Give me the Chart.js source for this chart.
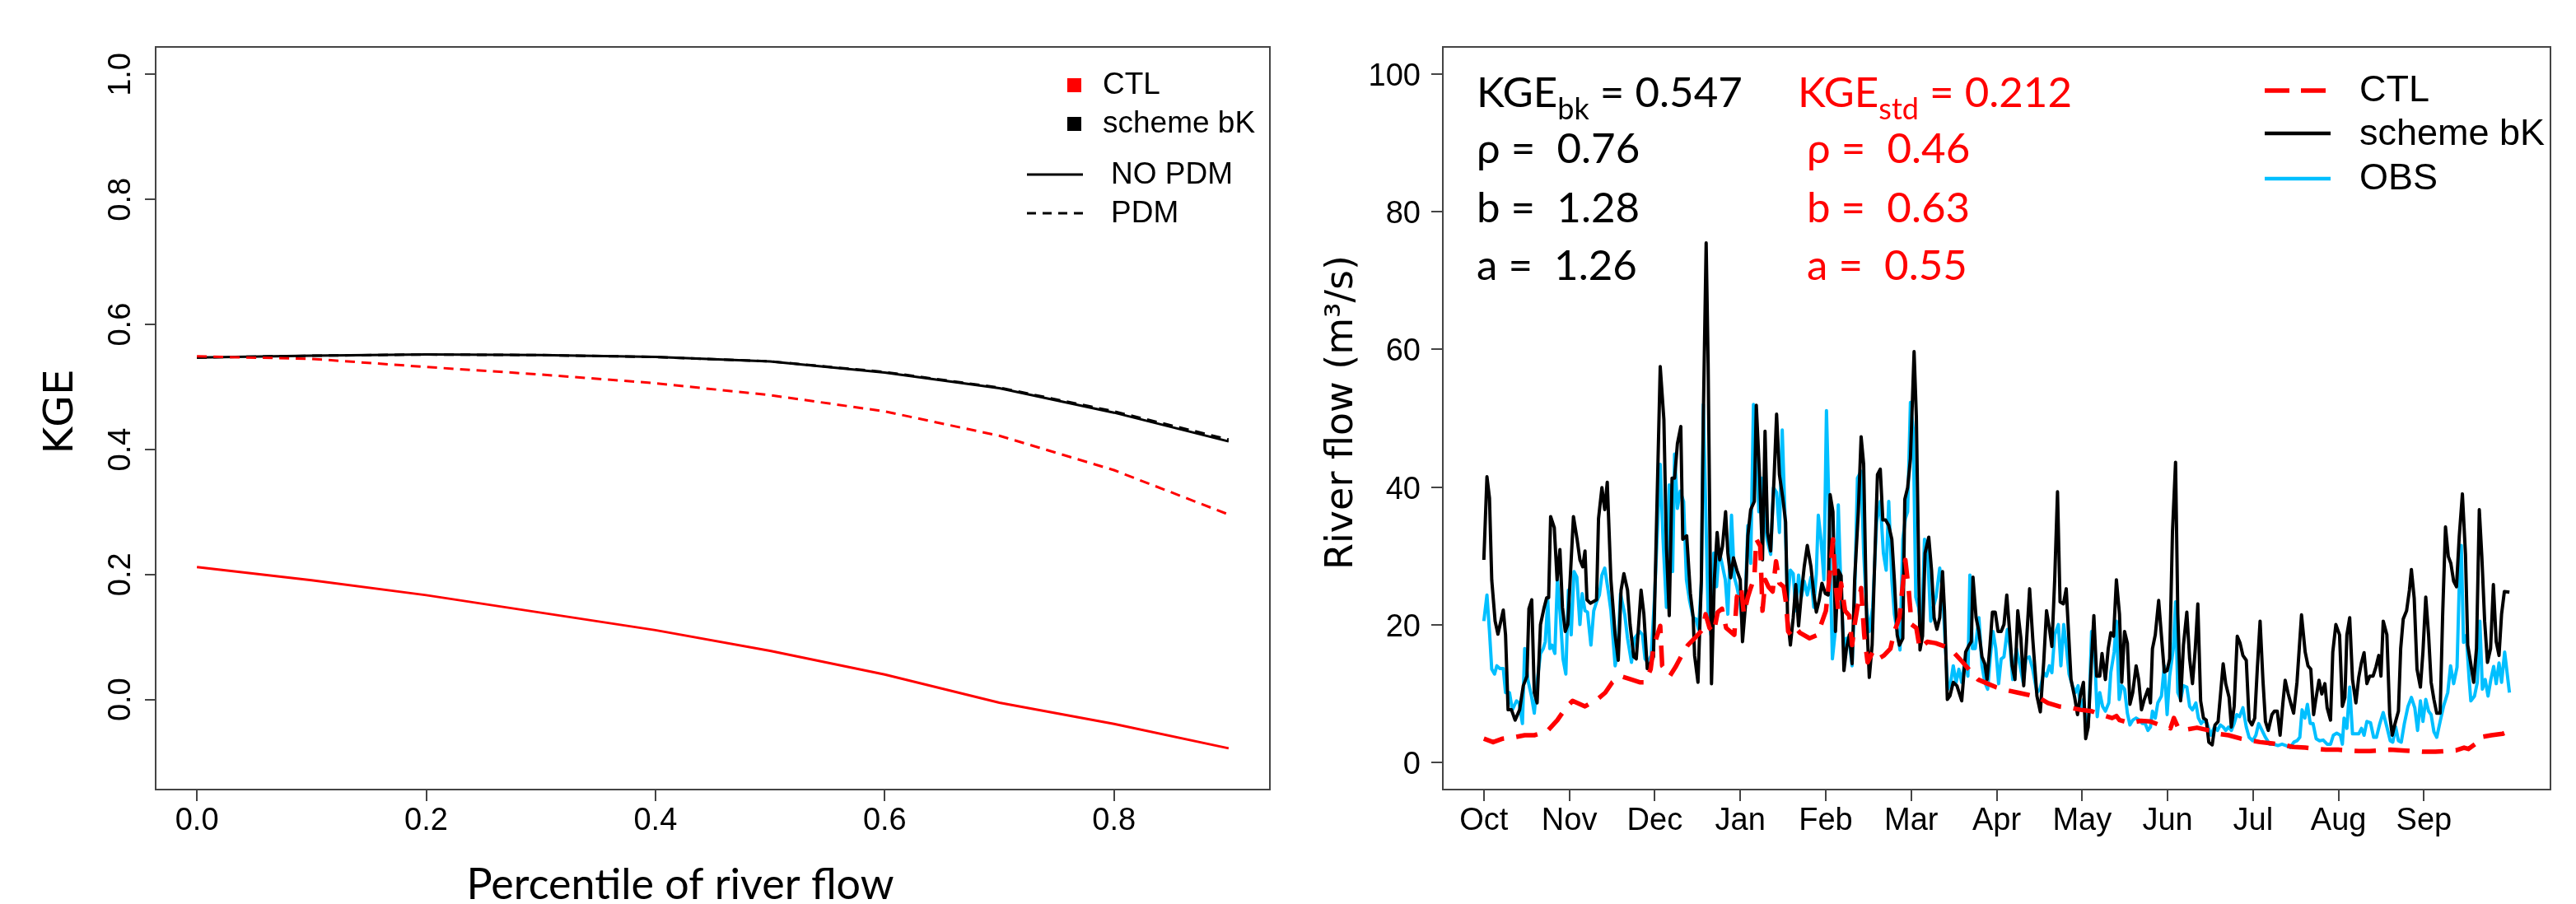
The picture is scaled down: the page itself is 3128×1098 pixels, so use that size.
<!DOCTYPE html>
<html><head><meta charset="utf-8">
<script src="https://cdn.jsdelivr.net/npm/chart.js@4.4.1/dist/chart.umd.min.js"></script>
<style>
html,body{margin:0;padding:0;background:#fff;overflow:hidden;}
#wrap{position:relative;width:3128px;height:1098px;overflow:hidden;background:#fff}
canvas{position:absolute;top:0}
#cL{left:0}
#cR{left:1560px}
</style></head><body>
<div id="wrap"><canvas id="cL" width="1560" height="1098"></canvas><canvas id="cR" width="1568" height="1098"></canvas></div>
<script>
// ---------------- LEFT PANEL DATA ----------------
const percentiles = [0, 0.1, 0.2, 0.3, 0.4, 0.5, 0.6, 0.7, 0.8, 0.9];
const ctlNoPdm = [0.212, 0.191, 0.167, 0.139, 0.111, 0.078, 0.040, -0.005, -0.039, -0.078];
const ctlPdm   = [0.549, 0.545, 0.532, 0.520, 0.506, 0.487, 0.461, 0.422, 0.367, 0.296];
const bkNoPdm  = [0.547, 0.550, 0.552, 0.551, 0.548, 0.541, 0.523, 0.498, 0.459, 0.413];
const bkPdm    = [0.547, 0.550, 0.552, 0.551, 0.548, 0.541, 0.524, 0.499, 0.461, 0.416];
const kgeTicks = [0, 0.2, 0.4, 0.6, 0.8, 1.0];
const pctTicks = [0, 0.2, 0.4, 0.6, 0.8];

// ---------------- RIGHT PANEL DATA (day of water year, m3/s) ----------------
const monthLabels = ['Oct','Nov','Dec','Jan','Feb','Mar','Apr','May','Jun','Jul','Aug','Sep'];
const flowTicks = [0, 20, 40, 60, 80, 100];

const bkDay = [0,1.1,2,2.8,4,5,6.9,7.7,8.6,9.8,11.1,12.7,14,15.3,16,17,17.9,18.9,20.1,21.3,22.3,23,23.7,25,26,27,27.9,28.9,29.8,31.8,33.1,34.1,35.1,35.9,36.6,37.8,40,40.7,41.9,42.9,43.8,45.1,46.6,47.7,48.7,49.7,51,51.9,53.2,54.1,55.8,56.8,58,59.2,60.2,61.1,62.6,63.9,64.8,65.8,66.8,67.7,68.7,69.9,70.6,72,73.3,74.3,74.8,76,77.2,77.9,78.9,79.6,80.8,81.8,82.8,83.7,84.7,85.8,86.6,87.6,88.6,89.8,91,91.8,92.8,93.7,94.7,96,96.7,97.9,98.9,99.8,100.7,101.8,103,103.9,104.9,106.1,107.1,107.8,108.8,109.8,110.7,111.7,112.7,113.7,114.8,116.1,117.1,118,119,120,121.2,122.2,122.9,123.9,124.8,125.8,126.8,127.8,128.7,129.7,130.7,131.6,132.9,133.9,134.8,135.8,136.8,137.8,138.7,139.7,140.7,141.6,142.6,143.7,144.8,145.7,146.7,147.5,148.7,149.4,150.4,151.4,152.7,153.5,154.8,155.7,156.6,157.9,158.9,159.8,160.8,161.8,162.8,163.5,164.5,165.4,166.6,167.9,169.6,171,172.2,173,173.6,174.7,175.7,176.8,177.8,178.6,179.6,180.5,181.5,182.5,183.6,184.6,185.6,186.6,187.5,188.5,189.5,190.6,191.6,192.6,193.7,194.8,196.3,197.5,198.7,199.7,200.7,201.6,202.6,203.6,204.5,205.7,206.7,207.5,208.4,209.7,210.7,211.8,212.8,213.6,214.5,215.5,216.5,217.5,218.6,219.4,220.6,221.6,222.5,223.5,224.5,225.6,226.4,227.4,228.4,229.3,230.3,231.5,232.4,233.4,234.4,235.7,236.6,237.3,238.3,239.5,240.5,241.5,242.5,243.4,244.4,245.5,246.3,247.3,248.3,249.5,250.5,251.5,252.5,253.4,254.4,255.4,256.4,257.3,258.5,259.5,260.6,261.4,262.4,263.3,264.5,265.3,266.3,267.4,268.4,269.4,270.6,271.6,272.6,273.6,274.5,275.5,276.5,277.4,278.4,279.7,280.6,281.6,282.6,283.6,284.4,285.5,286.5,287.4,288.6,290.2,291.5,292.5,293.5,294.5,295.2,296.4,297.4,298.5,299.3,300.5,301.3,302.4,303.7,304.7,305.6,306.3,307.3,308.3,309.5,310.5,311.5,312.4,313.4,314.4,315.6,316.6,317.6,318.4,319.2,320.5,321.5,322.4,323.4,324.6,325.4,326.3,327.5,328.5,329.2,330.2,331.2,332.4,333.3,334.3,335.3,336.2,337.2,338.2,339.4,340.3,341.3,342.3,343.2,344.2,345.2,346.2,347.3,348.4,349.2,350,351.3,352.3,353.3,354.2,355.2,356.2,357.3,358.3,359.3,360.3,361.2,362.2,364];
const bkVal = [29.4,41.5,38.4,26.5,20.5,18.6,22.1,18.5,7.6,7.6,6.1,7.6,11.1,12.5,22.3,23.6,10.1,8.6,20.0,22.3,23.9,23.9,35.7,34.1,26.5,30.9,22.5,19.0,20.0,35.7,32.4,29.4,28.4,30.7,23.6,23.1,23.6,35.4,39.9,36.7,40.7,26.5,18.5,14.8,25.0,27.4,25.0,20.0,15.3,15.0,25.0,21.5,13.6,14.5,15.3,31.4,57.5,49.8,31.4,21.3,41.3,41.3,46.3,48.8,32.4,32.9,24.5,21.0,15.5,11.6,26.5,50.3,75.5,58.0,11.4,26.5,33.4,29.4,31.4,36.4,30.4,26.8,29.7,27.9,26.5,17.5,22.5,32.9,36.7,37.9,51.9,41.3,29.4,48.1,33.4,30.7,41.3,50.6,41.8,38.4,34.9,21.0,17.0,21.0,25.8,19.8,24.5,28.4,31.5,28.4,24.5,21.8,23.5,26.0,24.5,24.3,38.9,36.4,19.0,27.9,27.1,13.3,16.5,18.5,14.3,26.5,36.4,47.3,43.3,21.5,12.3,17.0,28.9,41.8,42.6,35.2,35.2,34.4,32.4,26.5,18.5,17.0,18.0,38.2,39.9,44.1,59.7,50.3,16.3,18.3,30.4,32.7,27.9,21.0,19.3,21.0,27.7,22.0,9.1,9.6,11.6,11.1,8.9,16.0,17.0,17.5,26.9,21.0,19.0,15.3,14.3,12.0,16.8,21.8,21.8,19.0,19.0,20.0,24.3,19.0,14.0,12.0,22.0,18.0,11.1,17.5,25.2,18.0,9.6,7.3,14.5,22.0,19.5,16.8,26.5,39.3,23.3,23.0,25.2,19.0,12.0,9.4,6.9,9.9,11.6,3.4,5.1,13.5,21.3,12.5,12.5,15.8,12.0,16.5,18.8,18.3,26.5,21.5,11.6,19.0,17.3,8.4,10.1,14.0,12.0,7.6,9.1,10.6,8.6,16.5,18.5,23.5,18.3,13.1,13.3,15.0,33.4,43.6,21.5,8.9,17.0,21.8,15.0,11.4,16.5,23.0,8.9,6.4,6.1,2.9,2.5,5.4,5.9,9.6,14.3,11.4,9.4,5.1,8.1,18.3,17.3,15.5,14.8,6.1,5.4,6.4,13.5,20.5,12.0,5.9,4.6,6.9,7.4,7.4,3.9,8.6,11.9,9.9,8.4,7.1,11.6,21.4,16.0,14.0,13.5,6.9,8.9,11.9,9.9,11.4,7.9,6.1,16.0,20.0,18.5,8.1,9.4,18.5,21.0,12.0,8.6,12.3,14.5,15.9,11.4,12.5,12.5,13.8,15.5,12.5,20.5,18.5,6.9,3.9,5.6,7.4,16.5,20.8,22.0,25.0,28.0,23.8,13.5,10.9,16.0,24.0,18.5,11.6,9.1,7.1,7.1,21.5,34.2,29.9,28.9,26.3,25.5,32.9,39.0,30.2,17.0,15.0,11.6,16.5,36.7,29.9,20.5,14.5,16.5,25.8,17.5,15.5,21.5,24.8,24.7];

const obsDay = [0,1.1,2,2.8,3.8,4.6,5.7,6.9,7.7,9.1,10.1,11.6,12.5,13.7,14.5,15.6,16.9,17.9,18.9,20.1,21.1,21.8,22.7,23.4,24.2,25.2,26.1,27.1,28.1,29.1,30,31,32,33,34.1,34.9,35.9,36.8,38,39,40,41,41.9,42.9,44.1,45.1,46.6,47.5,48.5,50,51,52.4,53.5,55.3,56.3,57.2,58.2,59.4,60.6,62.6,63.6,64.8,65.8,67,67.7,68.7,69.7,70.9,71.9,73,74.3,75.3,76.2,77.2,77.9,79.6,80.6,81.6,82.6,83.5,84.5,85.7,86.6,87.9,88.9,89.8,90.8,91.8,92.8,93.7,94.7,95.7,96.7,97.6,98.6,99.6,100.5,101.8,102.8,103.9,104.9,105.9,106.9,107.8,108.8,109.8,110.7,111.7,112.7,113.7,114.8,116.1,117.1,118,118.7,119.7,120.7,121.6,122.6,123.7,124.6,125.8,126.8,127.8,128.7,129.7,130.7,131.6,132.6,133.9,134.8,135.8,136.8,138,139.4,140.7,141.8,142.8,143.7,144.8,145.7,146.7,147.7,148.7,149.6,150.4,151.4,152.4,153.3,154.3,155.3,156.4,157.4,158.6,159.5,160.5,161.8,162.8,163.7,164.7,165.7,166.6,167.6,168.6,169.6,170.8,171.8,172.5,173.4,174.4,175.7,176.8,177.8,178.8,179.8,180.7,181.7,182.7,183.6,184.6,185.8,186.8,187.7,189,190.3,191.4,192.4,193.6,194.8,196.3,197.4,198.7,199.7,200.7,201.6,202.6,203.9,204.8,205.8,206.8,207.7,208.9,209.9,210.9,211.8,212.8,213.8,214.7,215.7,216.5,217.7,218.6,219.6,220.6,221.8,222.5,223.7,224.5,225.5,226.4,227.4,228.4,229.3,230.3,231.5,232.7,233.7,234.7,235.7,236.6,237.3,238.3,239.2,240.5,241.5,242.5,243.4,244.7,245.5,246.3,247.3,248.3,249.5,250.5,251.5,252.7,253.6,254.6,255.6,256.7,258,259.3,260.4,261.4,262.4,263.3,264.3,265.3,266.3,267.2,268.2,269.4,270.6,271.6,272.9,274,275,276.2,277.4,278.9,280.4,281.8,283.3,284.7,286.2,287.5,288.6,289.6,290.4,291.4,292.3,293.3,294.3,295.4,296.6,297.9,299.3,300.5,301.5,302.7,304,304.7,305.3,306.3,307.3,308.3,309.5,310.5,311.5,312.4,313.4,314.7,315.8,316.8,318,319.2,320.5,321.7,322.6,323.6,324.6,325.6,326.7,328,329.2,330.4,331.4,332.4,333.3,334.3,335.3,336.2,337.2,338.2,339.4,340.6,342.1,343.1,344.2,345.4,346.2,346.9,347.7,348.7,349.7,350.3,351.6,352.6,353.5,354.4,355.4,356.4,357.4,358.4,359.3,360.3,361.2,362.3,364];
const obsVal = [20.5,24.3,19.0,13.5,12.8,14.0,13.6,13.6,10.1,10.1,7.6,8.9,8.6,5.6,16.5,12.0,9.6,7.1,11.6,15.8,16.5,17.5,23.5,16.5,17.0,15.8,26.5,21.5,15.0,12.8,25.0,18.5,27.7,26.9,20.0,24.5,22.0,21.8,17.0,22.0,23.3,24.3,27.2,28.2,25.0,22.0,14.0,16.0,24.5,21.5,18.0,14.5,18.0,19.0,18.5,15.0,14.5,15.5,24.0,43.3,32.4,22.5,40.3,27.7,44.8,36.9,39.4,37.9,26.5,23.5,21.0,20.8,19.3,26.0,52.0,21.5,18.5,30.4,25.5,30.7,28.9,26.5,21.5,35.9,26.9,25.5,23.5,20.0,23.5,34.4,28.9,52.0,46.3,36.4,41.3,35.4,32.4,30.2,39.9,39.2,33.4,48.3,35.4,23.5,27.9,27.4,22.0,27.2,24.0,26.3,24.3,26.9,22.5,27.4,35.9,32.2,26.5,51.1,34.9,15.0,18.5,37.4,24.0,16.5,18.0,17.5,14.0,24.0,41.3,42.3,30.4,22.5,19.0,22.5,34.9,37.9,30.4,27.9,37.9,26.5,21.5,19.0,16.3,32.4,35.4,36.4,52.3,48.3,24.0,22.5,19.0,32.4,31.4,20.5,22.5,24.0,28.2,25.0,17.5,10.6,11.6,14.0,11.6,13.5,11.6,15.0,12.5,27.2,16.5,16.5,21.0,14.0,11.6,10.6,15.5,19.0,16.5,11.4,15.0,15.3,19.3,16.5,12.0,16.5,14.0,11.6,15.0,15.3,13.5,10.1,10.6,13.0,12.5,14.0,13.0,18.5,20.0,14.0,20.0,16.5,12.8,11.1,10.1,11.1,7.6,9.1,5.6,6.6,19.0,18.5,6.6,10.1,8.1,7.4,8.6,13.0,16.0,20.5,9.1,11.1,10.6,7.1,5.4,6.1,6.4,6.1,5.6,5.6,4.6,5.1,7.4,6.4,8.6,9.6,14.0,6.9,12.5,16.5,23.3,10.1,9.1,11.1,10.9,8.1,7.6,8.6,6.4,5.6,6.1,5.6,3.9,5.1,4.6,5.4,5.1,4.6,5.1,4.6,5.6,6.9,6.6,7.9,5.1,3.6,3.1,3.9,5.6,4.6,3.6,2.6,2.6,2.4,2.6,2.4,2.1,2.9,3.1,3.6,7.6,6.4,8.4,5.6,5.6,3.4,3.1,3.2,2.6,2.6,3.9,4.2,3.9,2.6,6.4,4.9,10.9,4.1,4.1,4.1,4.9,3.9,5.9,5.7,3.6,3.6,5.6,7.2,5.1,3.1,2.9,5.1,3.1,2.9,5.6,8.1,9.4,7.9,4.6,8.9,5.9,9.1,7.4,6.9,4.4,3.6,5.9,8.1,10.1,14.0,11.4,13.8,26.0,31.5,17.4,18.4,12.0,8.9,9.6,11.6,20.5,10.6,12.0,9.6,12.0,13.9,11.4,14.4,11.6,16.0,10.1];

const ctlDay = [0,3.3,6.7,10.6,14.5,17.9,22.3,26.1,29.1,31.5,35.9,40.2,43.1,45.6,48.5,52.4,55.3,57.2,59.2,60.2,62.6,63.3,66,68,70.6,72.4,74.8,77.7,78.7,80.1,81.6,83,84.5,86,88.9,89.8,91.3,92.3,93.7,94.7,96,96.7,98.1,98.9,99.9,101,102.5,103.7,104.9,106.4,107.3,108,109,110.7,112.2,115.6,118.5,119.5,121.4,122.9,123.9,124.8,125.8,126.8,128.2,129.7,130.7,131.6,132.6,133.9,135,136.2,138,139.9,142,144.3,145.7,147.5,149.6,150.8,151.8,153.5,154.7,157.4,160.3,163.7,167.1,170,172.5,175.4,178.8,181.7,186.1,189.5,192.9,196.8,200.2,204.1,208,211.8,215.7,219.1,223,224.5,225.6,229.3,233.2,236.6,241,243.7,244.9,246.3,247.8,253.1,257.5,260.9,264.3,268.7,275.5,279.9,283.8,287.2,291.5,298.8,303.2,310.5,314.4,321.7,326,333.3,337.7,345,347.9,349.4,351.8,353.3,357.6,361.5,364];
const ctlVal = [3.4,2.9,3.4,3.6,3.9,3.9,4.4,6.1,7.9,8.9,8.1,9.1,10.1,11.6,12.5,12.0,11.6,11.6,13.5,16.7,19.8,14.0,12.5,13.8,15.8,17.0,18.0,19.3,21.5,19.5,18.8,21.8,22.3,19.5,18.5,24.0,25.5,21.5,24.0,25.3,26.8,32.4,31.4,22.0,26.5,25.5,24.8,29.2,26.0,25.5,23.0,19.0,18.5,19.5,18.8,18.0,18.5,19.8,22.0,27.8,32.4,26.0,22.0,26.0,22.0,21.3,17.0,20.0,22.5,25.3,18.5,14.5,16.0,15.0,15.5,16.5,19.0,21.0,29.4,25.0,20.0,19.5,16.5,17.5,17.3,16.8,15.8,14.5,13.3,12.0,11.4,10.9,10.4,10.1,9.8,9.4,8.6,8.1,7.9,7.6,7.4,6.9,6.4,6.7,6.1,5.7,6.0,5.9,5.2,4.9,6.4,5.1,4.6,5.0,4.6,4.1,3.9,3.4,2.9,2.7,2.5,2.2,2.1,1.8,1.8,1.6,1.6,1.8,1.7,1.5,1.5,1.7,2.1,1.9,2.6,3.6,3.9,4.1,4.5];

// ---------------- STYLE ----------------
const AXIS_COL = '#444';
const TICK_FONT = '38px "Liberation Sans", Arial, sans-serif';
const RED = '#FF0000', BLUE = '#00BFFF', BLACK = '#000000';

function fixedTicks(vals){ return function(s){ s.ticks = vals.map(v => ({value: v})); }; }
function pts(xs, ys){ return xs.map((x, i) => ({x: x, y: ys[i]})); }

// ---------------- LEFT CHART ----------------
const leftPlugin = {
  id: 'leftDecor',
  afterDraw(chart){
    const ctx = chart.ctx, a = chart.chartArea;
    const xs = chart.scales.x, ys = chart.scales.y;
    ctx.save();
    ctx.strokeStyle = AXIS_COL; ctx.lineWidth = 2;
    ctx.strokeRect(a.left, a.top, a.right - a.left, a.bottom - a.top);
    ctx.fillStyle = '#000';
    ctx.font = TICK_FONT;
    kgeTicks.forEach(v => {
      const y = ys.getPixelForValue(v);
      ctx.save(); ctx.translate(158, y); ctx.rotate(-Math.PI/2);
      ctx.textAlign = 'center'; ctx.textBaseline = 'alphabetic';
      ctx.fillText(v.toFixed(1), 0, 0); ctx.restore();
    });
    ctx.textAlign = 'center'; ctx.textBaseline = 'alphabetic';
    pctTicks.forEach(v => { ctx.fillText(v.toFixed(1), xs.getPixelForValue(v), 1008); });
    ctx.font = '52px Lato, "Open Sans", sans-serif';
    ctx.fillText('Percentile of river flow', 826, 1092);
    ctx.save(); ctx.translate(88, 500); ctx.rotate(-Math.PI/2);
    ctx.font = '50px "DejaVu Sans", sans-serif'; ctx.textAlign = 'center';
    ctx.fillText('KGE', 0, 0); ctx.restore();
    // legend
    ctx.fillStyle = RED; ctx.fillRect(1296, 95, 17, 17);
    ctx.fillStyle = BLACK; ctx.fillRect(1296, 142, 17, 17);
    ctx.font = '37px "Liberation Sans", Arial, sans-serif';
    ctx.textAlign = 'left'; ctx.textBaseline = 'middle';
    ctx.fillText('CTL', 1339, 104);
    ctx.fillText('scheme bK', 1339, 151);
    ctx.fillText('NO PDM', 1349, 213);
    ctx.fillText('PDM', 1349, 260);
    ctx.strokeStyle = BLACK; ctx.lineWidth = 3;
    ctx.beginPath(); ctx.moveTo(1247, 212); ctx.lineTo(1315, 212); ctx.stroke();
    ctx.setLineDash([11, 8]);
    ctx.beginPath(); ctx.moveTo(1247, 259); ctx.lineTo(1315, 259); ctx.stroke();
    ctx.restore();
  }
};

new Chart(document.getElementById('cL'), {
  type: 'line',
  data: {
    datasets: [
      {label: 'CTL NO PDM', data: pts(percentiles, ctlNoPdm), borderColor: RED, borderWidth: 3},
      {label: 'CTL PDM', data: pts(percentiles, ctlPdm), borderColor: RED, borderWidth: 3, borderDash: [12, 8]},
      {label: 'scheme bK PDM', data: pts(percentiles, bkPdm), borderColor: BLACK, borderWidth: 3, borderDash: [12, 8]},
      {label: 'scheme bK NO PDM', data: pts(percentiles, bkNoPdm), borderColor: BLACK, borderWidth: 3}
    ]
  },
  options: {
    responsive: false, animation: false, devicePixelRatio: 1,
    layout: {padding: {left: 0, top: 57, right: 18, bottom: 0}},
    elements: {point: {radius: 0}, line: {tension: 0, borderJoinStyle: 'round', fill: false}},
    plugins: {legend: {display: false}, tooltip: {enabled: false}},
    scales: {
      x: {type: 'linear', min: -0.036, max: 0.936,
          afterBuildTicks: fixedTicks(pctTicks),
          afterFit(s){ s.height = 139; },
          ticks: {display: false},
          border: {display: false},
          grid: {drawOnChartArea: false, drawTicks: true, tickLength: 14, color: AXIS_COL, lineWidth: 2}},
      y: {type: 'linear', min: -0.144, max: 1.044,
          afterBuildTicks: fixedTicks(kgeTicks),
          afterFit(s){ s.width = 189; },
          ticks: {display: false},
          border: {display: false},
          grid: {drawOnChartArea: false, drawTicks: true, tickLength: 13, color: AXIS_COL, lineWidth: 2}}
    }
  },
  plugins: [leftPlugin]
});

// ---------------- RIGHT CHART ----------------
const monthTicks = monthLabels.map((m, i) => i * 364 / 12);

function subText(ctx, x, y, main, sub, rest, color){
  ctx.fillStyle = color;
  ctx.font = '51px Lato, "Noto Sans", sans-serif';
  ctx.fillText(main, x, y);
  let w = ctx.measureText(main).width;
  ctx.font = '36px Lato, "Noto Sans", sans-serif';
  ctx.fillText(sub, x + w, y + 15);
  w += ctx.measureText(sub).width;
  ctx.font = '51px Lato, "Noto Sans", sans-serif';
  ctx.fillText(rest, x + w, y);
}

const rightPlugin = {
  id: 'rightDecor',
  afterDraw(chart){
    const ctx = chart.ctx, a = chart.chartArea;
    const xs = chart.scales.x, ys = chart.scales.y;
    ctx.save();
    ctx.strokeStyle = AXIS_COL; ctx.lineWidth = 2;
    ctx.strokeRect(a.left, a.top, a.right - a.left, a.bottom - a.top);
    ctx.fillStyle = '#000';
    ctx.font = TICK_FONT;
    ctx.textAlign = 'right'; ctx.textBaseline = 'alphabetic';
    flowTicks.forEach(v => { ctx.fillText(String(v), 165, ys.getPixelForValue(v) + 14); });
    ctx.textAlign = 'center';
    monthLabels.forEach((m, i) => { ctx.fillText(m, xs.getPixelForValue(monthTicks[i]), 1008); });
    ctx.save(); ctx.translate(82, 501); ctx.rotate(-Math.PI/2);
    ctx.font = '46px "DejaVu Sans", sans-serif'; ctx.textAlign = 'center';
    ctx.fillText('River flow (m\u00B3/s)', 0, 0); ctx.restore();
    ctx.textAlign = 'left'; ctx.textBaseline = 'alphabetic';
    subText(ctx, 233, 130, 'KGE', 'bk', ' = 0.547', BLACK);
    subText(ctx, 623, 130, 'KGE', 'std', ' = 0.212', RED);
    ctx.font = '51px Lato, "Noto Sans", sans-serif';
    ctx.fillStyle = BLACK;
    ctx.fillText('\u03C1 =  0.76', 233, 198);
    ctx.fillText('b =  1.28', 233, 270);
    ctx.fillText('a =  1.26', 233, 340);
    ctx.fillStyle = RED;
    ctx.fillText('\u03C1 =  0.46', 634, 198);
    ctx.fillText('b =  0.63', 634, 270);
    ctx.fillText('a =  0.55', 634, 340);
    ctx.lineCap = 'butt';
    ctx.strokeStyle = RED; ctx.lineWidth = 5.5; ctx.setLineDash([30, 14]);
    ctx.beginPath(); ctx.moveTo(1190, 110); ctx.lineTo(1270, 110); ctx.stroke();
    ctx.setLineDash([]);
    ctx.strokeStyle = BLACK; ctx.lineWidth = 4.5;
    ctx.beginPath(); ctx.moveTo(1190, 162); ctx.lineTo(1270, 162); ctx.stroke();
    ctx.strokeStyle = BLUE;
    ctx.beginPath(); ctx.moveTo(1190, 217); ctx.lineTo(1270, 217); ctx.stroke();
    ctx.fillStyle = '#000';
    ctx.font = '45px "Liberation Sans", Arial, sans-serif';
    ctx.textBaseline = 'middle';
    ctx.fillText('CTL', 1305, 111);
    ctx.fillText('scheme bK', 1305, 164);
    ctx.fillText('OBS', 1305, 218);
    ctx.restore();
  }
};

new Chart(document.getElementById('cR'), {
  type: 'line',
  data: {
    datasets: [
      {label: 'CTL', data: pts(ctlDay, ctlVal), borderColor: RED, borderWidth: 5.5, borderDash: [26, 15]},
      {label: 'scheme bK', data: pts(bkDay, bkVal), borderColor: BLACK, borderWidth: 4},
      {label: 'OBS', data: pts(obsDay, obsVal), borderColor: BLUE, borderWidth: 4}
    ]
  },
  options: {
    responsive: false, animation: false, devicePixelRatio: 1,
    layout: {padding: {left: 0, top: 57, right: 31, bottom: 0}},
    elements: {point: {radius: 0}, line: {tension: 0, borderJoinStyle: 'round', fill: false}},
    plugins: {legend: {display: false}, tooltip: {enabled: false}},
    scales: {
      x: {type: 'linear', min: -14.56, max: 378.56,
          afterBuildTicks: fixedTicks(monthTicks),
          afterFit(s){ s.height = 139; },
          ticks: {display: false},
          border: {display: false},
          grid: {drawOnChartArea: false, drawTicks: true, tickLength: 14, color: AXIS_COL, lineWidth: 2}},
      y: {type: 'linear', min: -4, max: 104,
          afterBuildTicks: fixedTicks(flowTicks),
          afterFit(s){ s.width = 192; },
          ticks: {display: false},
          border: {display: false},
          grid: {drawOnChartArea: false, drawTicks: true, tickLength: 14, color: AXIS_COL, lineWidth: 2}}
    }
  },
  plugins: [rightPlugin]
});
</script>
</body></html>
